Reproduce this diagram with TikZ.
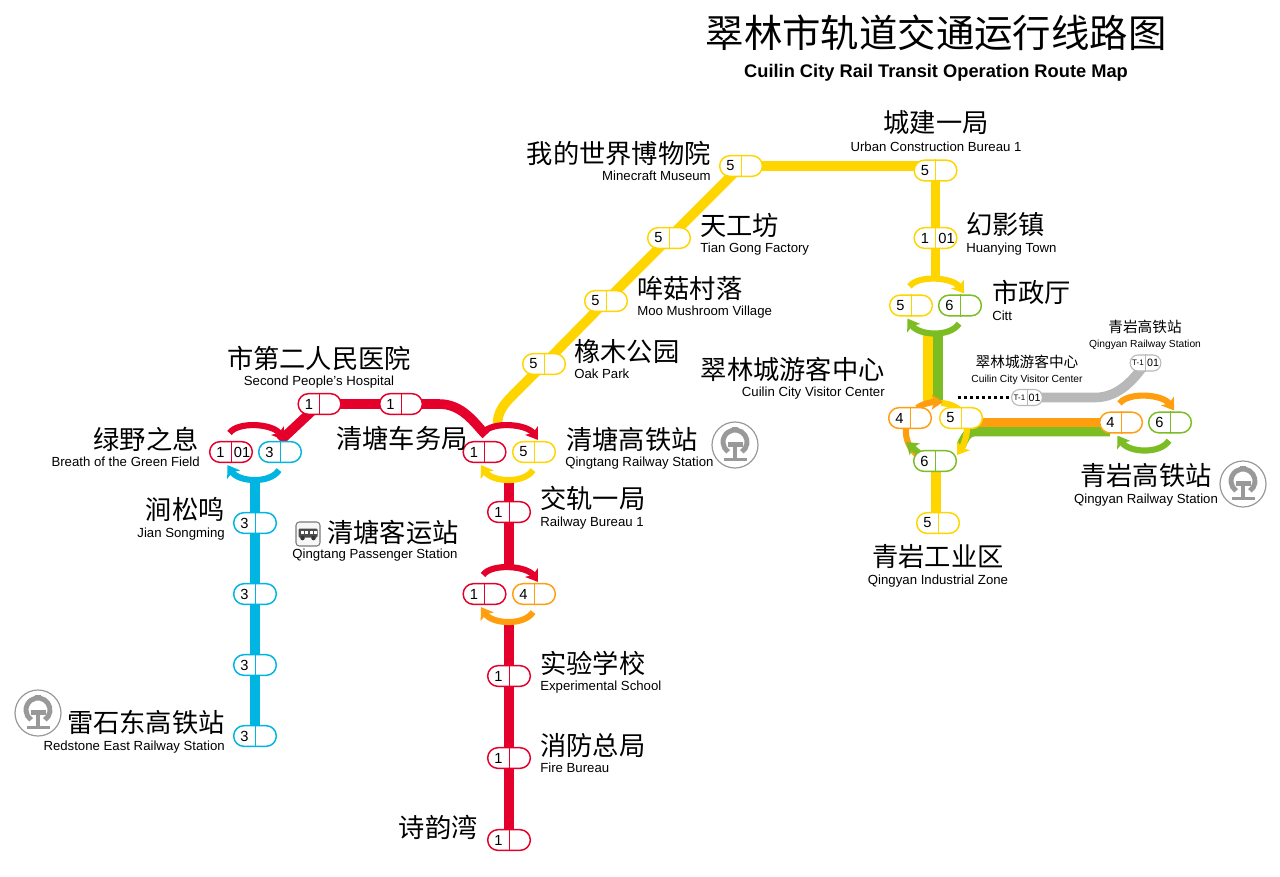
\documentclass[tikz,border=0pt]{standalone}
\usepackage{fontspec}
\setmainfont{Liberation Sans}
\newfontfamily\cjk{Noto Sans CJK SC}
\usepackage{xcolor}
\usetikzlibrary{positioning, arrows.meta, calc, backgrounds}

\definecolor{linered}{HTML}{E4002B}
\definecolor{lineblue}{HTML}{00B5E2}
\definecolor{lineyellow}{HTML}{FFD500}
\definecolor{lineorange}{HTML}{FF9E0F}
\definecolor{linegreen}{HTML}{7DBD24}
\definecolor{linegray}{HTML}{B8B8B8}
\definecolor{logogray}{HTML}{999999}

\begin{document}
\begin{tikzpicture}[
    x=0.75pt, y=-0.75pt,
    pill/.style={fill=white, rounded corners=7.7pt, line width=1.1pt, minimum width=32pt, minimum height=15.5pt, inner sep=0pt},
    tpill/.style={draw=linegray, fill=white, rounded corners=5.8pt, line width=0.8pt, minimum width=23pt, minimum height=12pt, inner sep=0pt},
    num/.style={font=\fontsize{11}{12}\selectfont, inner sep=0pt},
    track/.style={line width=7.2pt},
    swaparc/.style={line width=4.6pt, -{Stealth[length=8.5pt, width=11.5pt, inset=2pt]}},
    cntext/.style={font=\cjk\fontsize{19.7}{22}\selectfont, inner sep=0pt},
    cnsmall/.style={font=\cjk\fontsize{11}{13}\selectfont, inner sep=0pt},
    entext/.style={font=\fontsize{9.9}{11}\selectfont, inner sep=0pt, text height=9pt, text depth=1pt},
    ensmall/.style={font=\fontsize{7.7}{9}\selectfont, inner sep=0pt, text height=6.5pt, text depth=1pt},
    railsign/.pic={
        \begin{scope}[y=0.75pt]
        \draw[logogray, line width=0.9pt] (0,0) circle [radius=23];
        \draw[logogray, line width=3.7pt] ([shift={(-55:12)}]0,3) arc [start angle=-55, end angle=235, radius=12];
        \fill[logogray] (-3,14) rectangle (3,18.5);
        \fill[logogray] (-7.5,3) rectangle (7.5,-2);
        \fill[logogray] (-2,-2) rectangle (2,-13);
        \fill[logogray] (-11.5,-13) rectangle (11.5,-16);
        \end{scope}
    },
    coachsign/.pic={
        \begin{scope}[y=0.75pt]
        \draw[logogray!80!black, fill=black!3, rounded corners=2.5pt, line width=0.8pt] (-12,-12) rectangle (12,12);
        \fill[black!70, rounded corners=0.8pt] (-9.5,5.5) rectangle (9.5,-3.5);
        \foreach \wx in {-7.5,-3,1.5,6} {
            \fill[white] (\wx,3.5) rectangle ++(3,-3.2);
        }
        \fill[black!80] (-5.5,-4) circle [radius=2.3] (5.5,-4) circle [radius=2.3];
        \end{scope}
    },
]

\newcommand{\swapring}[4]{
    \draw[swaparc, draw=#3] ($(#1.north)+(-1.5,-8)$) .. controls +(9,-12) and +(-11,-16) .. ($(#2.north)+(4,-1)$);
    \draw[swaparc, draw=#4] ($(#2.south)+(-1,7)$) .. controls +(-9,14) and +(11,17) .. ($(#1.south)+(-3.5,2)$);
}

\useasboundingbox (0,0) rectangle (1280,876);

% Stations
\foreach \nm/\x/\y/\col/\n in {
    minecraft/741/166/lineyellow/5, tiangong/669/238/lineyellow/5, moovillage/606/301/lineyellow/5,
    oakpark/544/364/lineyellow/5, urban/935.5/170.5/lineyellow/5, huanying/935.5/238/lineyellow/1,
    cityyellow/911/305.5/lineyellow/5, citygreen/960/305.5/linegreen/6,
    ringorange/910/418/lineorange/4, ringyellow/961/418/lineyellow/5, ringgreen/935/461/linegreen/6,
    industrial/938/523/lineyellow/5, qingyanorange/1121/422.5/lineorange/4, qingyangreen/1170/422.5/linegreen/6,
    hospa/319.5/404/linered/1, hospb/401/404/linered/1,
    fieldred/231/452/linered/1, fieldblue/280/452/lineblue/3,
    jian/255/523/lineblue/3, blueb/255/594/lineblue/3, bluec/255/665/lineblue/3, redstone/255/736/lineblue/3,
    qtred/484.5/452/linered/1, qtyellow/534/452/lineyellow/5, bureau/509/512/linered/1,
    junctred/484.5/594/linered/1, junctorange/534/594/lineorange/4,
    school/509/676/linered/1, fire/509/758/linered/1, shiyun/509/840/linered/1} {
    \node[pill, draw=\col] (\nm) at (\x,\y) {};
    \draw[draw=\col, line width=0.75pt] (\nm.north) -- (\nm.south);
    \node[num] (\nm-n) at ($(\nm)+(-10.5,0)$) {\n};
}
\node[num] (huanying-r) at ($(huanying)+(11,0)$) {01};
\node[num] (fieldred-r) at ($(fieldred)+(11,0)$) {01};

% Tourist line stops
\foreach \nm/\x/\y in {visitor/1027/397.5, qingyant/1145.5/363} {
    \node[tpill] (\nm) at (\x,\y) {};
    \draw[linegray, line width=0.7pt] (\nm.north) -- (\nm.south);
    \node[font=\fontsize{6}{7}\selectfont, inner sep=0pt] (\nm-t) at ($(\nm)+(-7.5,0)$) {T-1};
    \node[font=\fontsize{8}{9}\selectfont, inner sep=0pt] (\nm-r) at ($(\nm)+(7.5,0)$) {01};
}

\coordinate (oakbend) at (512,396);
\coordinate (yellowend) at (497.5,424);
\coordinate (urbanbend) at (935.5,166);

\begin{scope}[on background layer]
    \fill[white] (0,0) rectangle (1280,876);

    % Line 1
    \draw[track, linered, line join=round] (fieldblue.north) -- (hospa.center) -- (hospb.center) -- ++(38,0)
        .. controls +(24,0) and +(-11,-11) .. ($(qtred.north)+(1.5,-6)$);
    \draw[track, linered] (509,480) -- (bureau.center) -- (509,566);
    \draw[track, linered] (509,621) -- (school.center) -- (fire.center) -- (shiyun.center);

    % Line 3
    \draw[track, lineblue] (255,479) -- (jian.center) -- (blueb.center) -- (bluec.center) -- (redstone.center);

    % Line 5
    \draw[track, lineyellow, line join=round] (urban.center) -- (urbanbend) -- (minecraft.center) -- (tiangong.center) -- (moovillage.center) -- (oakpark.center) -- (oakbend)
        .. controls +(-9,9) and +(0,-11) .. (yellowend);
    \draw[track, lineyellow] (urban.center) -- (huanying.center) -- (935.5,278);
    \draw[track, lineyellow] (928,332) -- (928,402);
    \draw[track, lineyellow] (936,470) -- (936,515);

    % Lines 4 and 6 into the Qingyan terminal
    \draw[track, linegreen] (938,332) -- (938,403);
    \draw[track, linegreen] (1110,431.5) -- (974,431.5) .. controls +(-7,0) and +(2,-5) .. (961,446);
    \draw[track, lineorange] (961,422.5) -- (qingyanorange.center);

    % Tourist line
    \draw[track, linegray] (visitor.center) -- (1095,397.5) .. controls +(25,0) and +(-10,14) .. (qingyant.center);
    \draw[black, line width=2.3pt, dash pattern=on 2.3pt off 2.2pt] (958,397.5) -- (visitor.west);

    % Transfer arcs
    \swapring{fieldred}{fieldblue}{linered}{lineblue}
    \swapring{qtred}{qtyellow}{linered}{lineyellow}
    \swapring{junctred}{junctorange}{linered}{lineorange}
    \swapring{cityyellow}{citygreen}{lineyellow}{linegreen}
    \swapring{qingyanorange}{qingyangreen}{lineorange}{linegreen}

    % Ring round the three platforms
    \draw[line width=4.6pt, lineorange] (906,428) .. controls (905,440) and (910,450) .. (919,456);
    \draw[swaparc, draw=lineyellow] (941,403) .. controls (960,404) and (969,418) .. (967,430)
        .. controls (966,440) and (962,448) .. (957,455);
    \draw[swaparc, draw=lineorange] (917,408) .. controls (924,403) and (932,402) .. (943,402);
    \draw[swaparc, draw=linegreen] (919,453) -- (906,442);
\end{scope}

% Title
\node[font=\cjk\fontsize{28.8}{32}\selectfont, inner sep=0pt] (title) at (936,33) {翠林市轨道交通运行线路图};
\node[font=\bfseries\fontsize{13.7}{15}\selectfont, inner sep=0pt] (subtitle) at (936,72.5) {Cuilin City Rail Transit Operation Route Map};

% Station names
\foreach \nm/\x/\y/\anc/\txt in {
    urban/936/123/center/城建一局, minecraft/711/153/east/我的世界博物院, tiangong/700/225/west/天工坊,
    moovillage/637/288/west/哞菇村落, oakpark/574/351/west/橡木公园, huanying/966/225/west/幻影镇,
    city/992/292/west/市政厅, visitor/885/369/east/翠林城游客中心, qingyan/1146/475/center/青岩高铁站,
    industrial/938/557/center/青岩工业区, hosp/319/358/center/市第二人民医院, field/199/439/east/绿野之息,
    jian/225/509/east/涧松鸣, coach/327/532/west/清塘客运站, redstone/225/722/east/雷石东高铁站,
    qtyard/336/438/west/清塘车务局, qthsr/566/439/west/清塘高铁站, bureau/540/498/west/交轨一局,
    school/540/663/west/实验学校, fire/540/745/west/消防总局, shiyun/478/827/east/诗韵湾} {
    \node[cntext, anchor=\anc] (\nm-cn) at (\x,\y) {\txt};
}
\foreach \nm/\x/\y/\anc/\txt in {
    urban/936/146/center/Urban Construction Bureau 1, minecraft/711/175/east/Minecraft Museum,
    tiangong/700/247/west/Tian Gong Factory, moovillage/637/310/west/Moo Mushroom Village,
    oakpark/574/373/west/Oak Park, huanying/966/247/west/Huanying Town, city/992/315/west/Citt,
    visitor/885/391/east/Cuilin City Visitor Center, qingyan/1146/498/center/Qingyan Railway Station,
    industrial/938/579/center/Qingyan Industrial Zone, hosp/319/380/center/Second People's Hospital,
    field/200/461/east/Breath of the Green Field, jian/225/532/east/Jian Songming,
    coach/375/553/center/Qingtang Passenger Station, redstone/225/745/east/Redstone East Railway Station,
    qthsr/565/461/west/Qingtang Railway Station, bureau/540/521/west/Railway Bureau 1,
    school/540/685/west/Experimental School, fire/540/767/west/Fire Bureau} {
    \node[entext, anchor=\anc] (\nm-en) at (\x,\y) {\txt};
}

% Tourist line names
\node[cnsmall] (visitor-cn) at (1027,362) {翠林城游客中心};
\node[ensmall] (visitor-en) at (1027,379) {Cuilin City Visitor Center};
\node[cnsmall] (qingyant-cn) at (1145,327) {青岩高铁站};
\node[ensmall] (qingyant-en) at (1145,344) {Qingyan Railway Station};

% Signs
\pic at (735,445) {railsign};
\pic at (1243,484) {railsign};
\pic at (38,713) {railsign};
\pic at (308,534) {coachsign};

\end{tikzpicture}
\end{document}
